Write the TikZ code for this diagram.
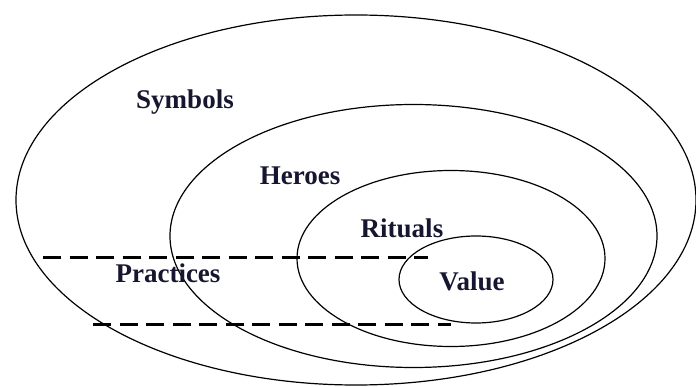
\documentclass[tikz,border=0pt]{standalone}
\usepackage{fontspec}
\setmainfont{Liberation Serif}
\definecolor{txtcol}{RGB}{22,22,48}
\begin{document}
\begin{tikzpicture}[x=1pt,y=-1pt,
  ring/.style={draw=black,line width=1.2pt},
  lbl/.style={font=\fontsize{27}{30}\selectfont\bfseries,text=txtcol,inner sep=0pt},
  dashline/.style={draw=black,line width=3pt,dash pattern=on 18pt off 8.5pt}]
\useasboundingbox (0,0) rectangle (696,387);
\draw[ring] (356,200) ellipse [x radius=340,y radius=185];
\draw[ring] (413.5,236) ellipse [x radius=243.5,y radius=131.5];
\draw[ring] (451,258.5) ellipse [x radius=154,y radius=88];
\draw[ring] (476,279.5) ellipse [x radius=77,y radius=43.5];
\coordinate (d1a) at (43,258);
\coordinate (d1b) at (428,258);
\coordinate (d2a) at (93,324);
\coordinate (d2b) at (451,324);
\draw[dashline] (d1a) -- (d1b);
\draw[dashline] (d2a) -- (d2b);
\node[lbl] (symbols) at (185,102) {Symbols};
\node[lbl] (heroes) at (300,176) {Heroes};
\node[lbl] (rituals) at (402,228) {Rituals};
\node[lbl] (practices) at (168,273) {Practices};
\node[lbl] (value) at (472,281) {Value};
\end{tikzpicture}
\end{document}
